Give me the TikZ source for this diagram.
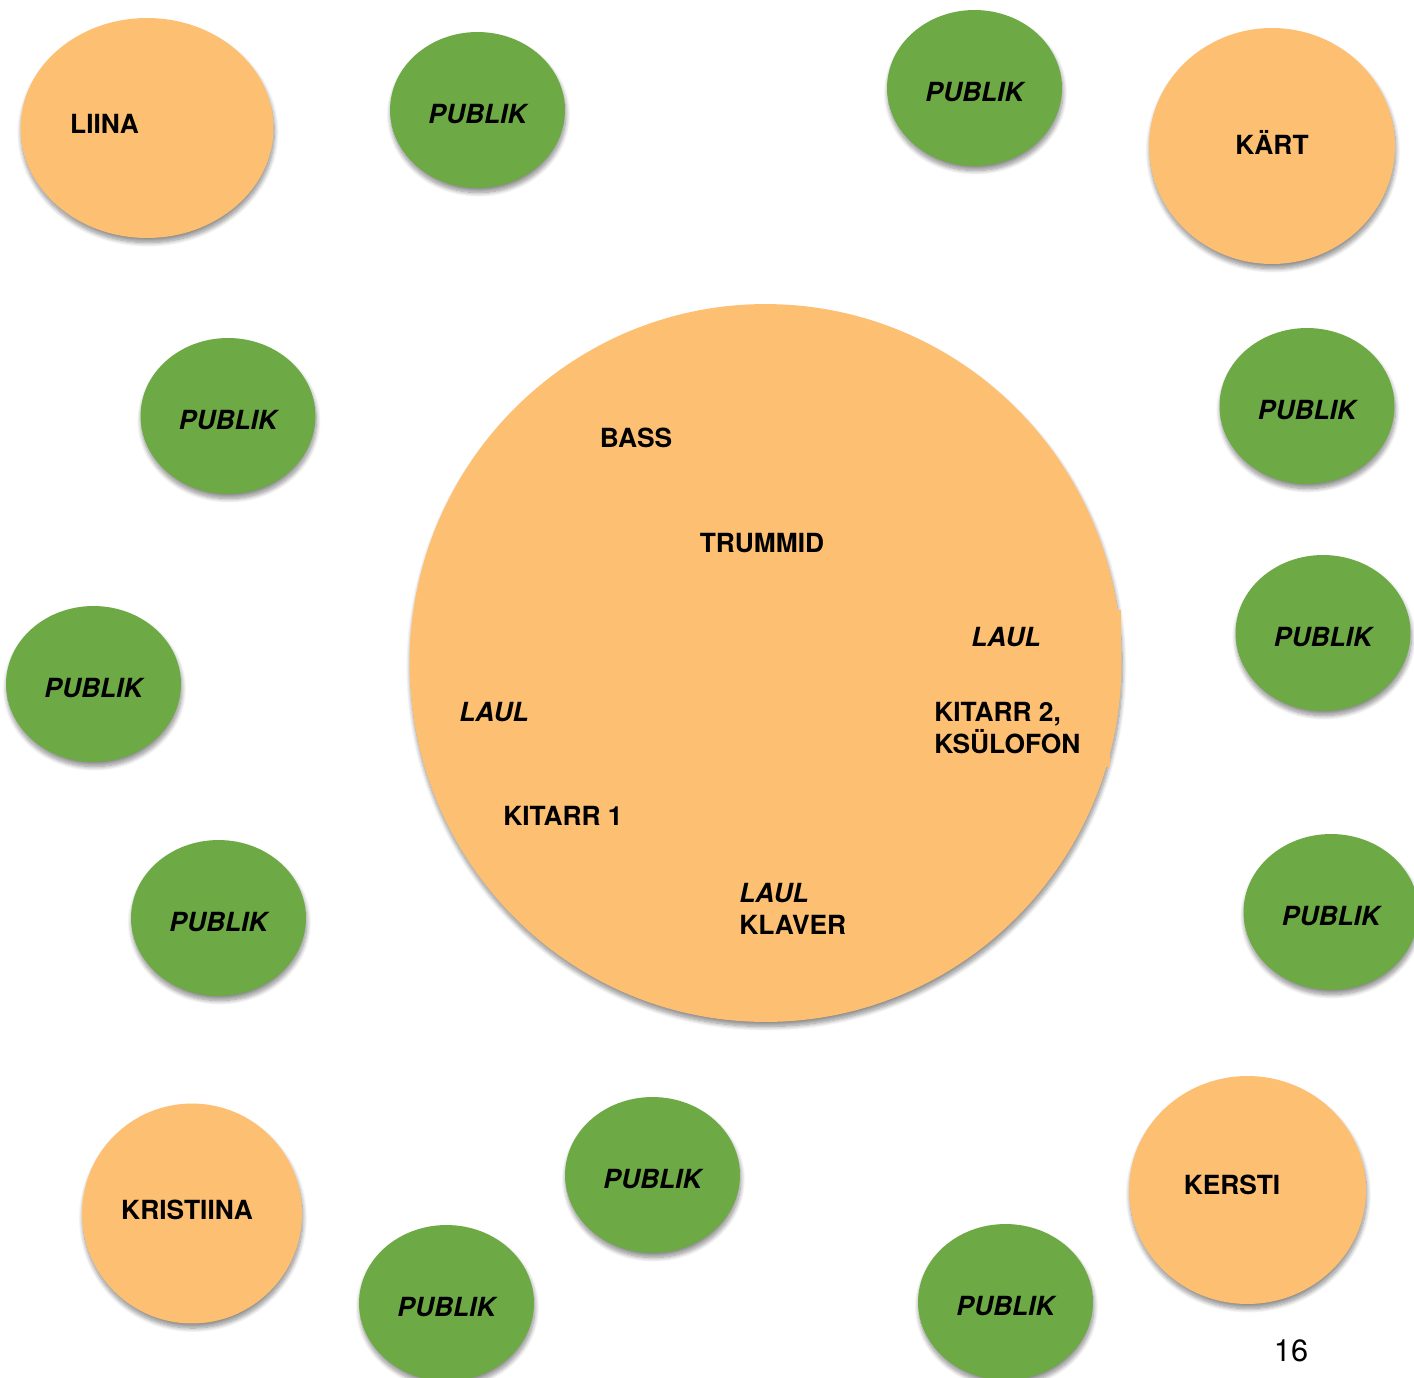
\documentclass[tikz,border=0pt]{standalone}
\usepackage{fontspec}
\setmainfont{TeX Gyre Heros}
\usetikzlibrary{shapes.geometric,shadows.blur}
\definecolor{oranz}{RGB}{253,191,113}
\definecolor{roheline}{RGB}{109,170,69}

\begin{document}
\begin{tikzpicture}[x=0.02cm, y=-0.02cm,
	varj/.style={blur shadow={shadow xshift=0.5pt, shadow yshift=-2.6pt, shadow blur radius=2.5pt, shadow blur steps=10, shadow opacity=45}},
	publik/.style={ellipse, fill=roheline, varj, minimum width=3.5cm, minimum height=3.12cm, inner sep=0pt, text height=15pt, text depth=0pt, font=\fontsize{15}{18}\selectfont\bfseries\itshape},
	nimi/.style={ellipse, fill=oranz, varj, inner sep=0pt},
	silt/.style={inner sep=0pt, align=left, font=\fontsize{15}{18}\selectfont\bfseries},
	laul/.style={silt, font=\fontsize{15}{18}\selectfont\bfseries\itshape}]
			%%%%% START %%%%%
			
			\useasboundingbox (0, 0) rectangle (1414, 1377);
			\clip (0, 0) rectangle (1414, 1377);
			
			\node[nimi, minimum width=5.06cm, minimum height=4.4cm] (liina) at (147, 128) {};
			\node[silt] (liinat) at (104.5, 124) {LIINA};
			\node[nimi, minimum width=4.92cm, minimum height=4.72cm] (kart) at (1272, 146) {};
			\node[silt] (kartt) at (1272, 142) {KÄRT};
			\node[nimi, minimum width=4.4cm, minimum height=4.4cm] (kristiina) at (192, 1213.5) {};
			\node[silt] (kristiinat) at (187, 1210) {KRISTIINA};
			\node[nimi, minimum width=4.74cm, minimum height=4.56cm] (kersti) at (1247.5, 1190) {};
			\node[silt] (kerstit) at (1232, 1185) {KERSTI};
			
			\node[publik] (p1) at (477.5, 110) {PUBLIK};
			\node[publik] (p2) at (974.5, 88) {PUBLIK};
			\node[publik] (p3) at (228, 416) {PUBLIK};
			\node[publik] (p4) at (1307, 406) {PUBLIK};
			\node[publik] (p5) at (1323, 633) {PUBLIK};
			\node[publik] (p6) at (93.5, 684) {PUBLIK};
			\node[publik] (p7) at (218.5, 918) {PUBLIK};
			\node[publik] (p8) at (1331, 912) {PUBLIK};
			\node[publik] (p9) at (652.5, 1175) {PUBLIK};
			\node[publik] (p10) at (446.5, 1303) {PUBLIK};
			\node[publik] (p11) at (1005.5, 1302) {PUBLIK};
			
			% lava
			\node[nimi, minimum width=14.24cm, minimum height=14.36cm] (lava) at (765.5, 663) {};
			\fill[oranz] (1000, 610) rectangle (1121, 660);
			\fill[oranz] (930, 700) rectangle (1110, 767);
			
			\node[silt] (bass) at (636, 438) {BASS};
			\node[silt] (trummid) at (762, 543) {TRUMMID};
			\node[laul] (laul1) at (1006, 637) {LAUL};
			\node[silt, anchor=west] (kitarr2) at (934, 728) {KITARR 2,\\KSÜLOFON};
			\node[laul] (laul2) at (494, 712) {LAUL};
			\node[silt] (kitarr1) at (563, 816) {KITARR 1};
			\node[silt, anchor=west] (klaver) at (739, 909) {\textit{LAUL}\\KLAVER};
			
			\node[inner sep=0pt, font=\fontsize{17.5}{20}\selectfont] (lk) at (1291, 1351) {16};
			
			%%%%% END %%%%%
\end{tikzpicture}
\end{document}
